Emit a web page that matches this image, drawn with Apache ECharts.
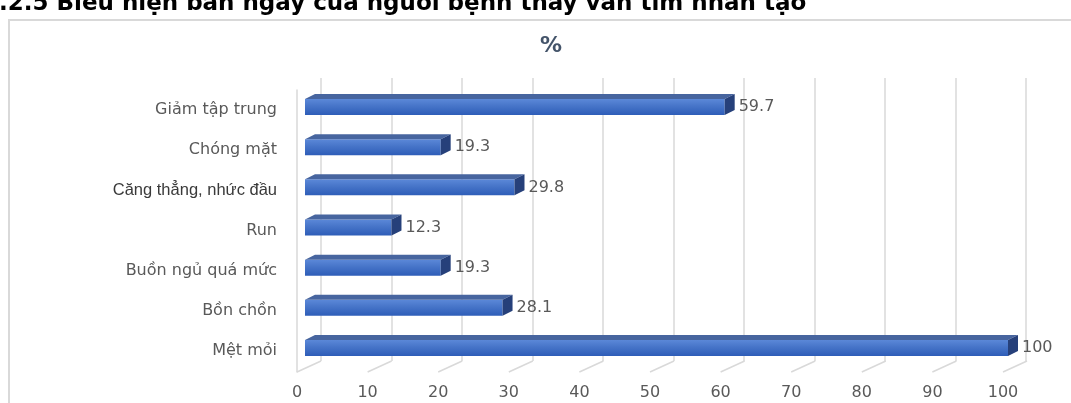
<!DOCTYPE html>
<html>
<head>
<meta charset="utf-8">
<script src="https://cdn.jsdelivr.net/npm/echarts@6/dist/echarts.min.js"></script>
<style>
html,body{margin:0;padding:0;background:#fff;}
#chart{width:1071px;height:403px;}
</style>
</head>
<body>
<div id="chart"></div>
<script>
// ---- data ----
var categories = ['Giảm tập trung', 'Chóng mặt', 'Căng thẳng, nhức đầu', 'Run', 'Buồn ngủ quá mức', 'Bồn chồn', 'Mệt mỏi'];
var values = [59.7, 19.3, 29.8, 12.3, 19.3, 28.1, 100];
var ticks = [0, 10, 20, 30, 40, 50, 60, 70, 80, 90, 100];
var chartTitle = '%';
var pageHeading = '2.2.5 Biểu hiện ban ngày của người bệnh thay van tim nhân tạo';

var DX = 10, DY = 5, BH = 16;
var chart = echarts.init(document.getElementById('chart'));

var option = {
  backgroundColor: '#fff',
  animation: false,
  title: {
    text: chartTitle, left: 535, top: 30,
    textStyle: {fontFamily: 'DejaVu Sans', fontWeight: 'bold', fontSize: 22, color: '#44546a'}
  },
  graphic: [
    {type: 'rect', shape: {x: 9, y: 20, width: 1100, height: 420},
     style: {fill: 'none', stroke: '#d9d9d9', lineWidth: 2}, z: -10},
    {type: 'text', x: -17, y: 4,
     style: {text: pageHeading, fontFamily: 'DejaVu Sans', fontWeight: 'bold', fontSize: 23,
             fill: '#000', verticalAlign: 'middle', align: 'left'}}
  ],
  grid: [
    {left: 321, right: 45, top: 78, bottom: 42},
    {left: 297, right: 68, top: 90, bottom: 31},
    {left: 305, right: 63, top: 87, bottom: 35}
  ],
  xAxis: [
    {gridIndex: 0, type: 'value', min: 0, max: 100, interval: 10,
     axisLabel: {show: false}, axisLine: {show: false}, axisTick: {show: false},
     splitLine: {show: true, lineStyle: {color: '#d9d9d9', width: 1.5}}},
    {gridIndex: 1, type: 'value', min: 0, max: 100, interval: 10,
     axisLabel: {show: true, margin: 13, color: '#595959', fontFamily: 'DejaVu Sans', fontSize: 16},
     axisLine: {show: false}, axisTick: {show: false}, splitLine: {show: false}},
    {gridIndex: 2, type: 'value', min: 0, max: 100, show: false, splitLine: {show: false}}
  ],
  yAxis: [
    {gridIndex: 0, type: 'value', min: 0, max: 1, show: false},
    {gridIndex: 1, type: 'value', min: 0, max: 1,
     axisLine: {show: true, lineStyle: {color: '#d9d9d9', width: 1.5}},
     axisLabel: {show: false}, axisTick: {show: false}, splitLine: {show: false}},
    {gridIndex: 2, type: 'category', data: categories, inverse: true,
     axisLine: {show: false}, axisTick: {show: false},
     axisLabel: {
       margin: 28, padding: [6, 0, 0, 0], color: '#595959', fontFamily: 'DejaVu Sans', fontSize: 16,
       formatter: function (v) {
         return v === 'Căng thẳng, nhức đầu' ? '{b|' + v + '}' : v;
       },
       rich: {b: {fontFamily: 'Liberation Sans', fontSize: 16.5, color: '#3a3a3a'}}
     }}
  ],
  series: [
    {
      type: 'custom', xAxisIndex: 1, yAxisIndex: 1, clip: false, silent: true,
      data: ticks.map(function (t) { return [t, 0]; }),
      renderItem: function (params, api) {
        var p = api.coord([api.value(0), 0]);
        return {type: 'line', shape: {x1: p[0], y1: p[1], x2: p[0] + 24, y2: p[1] - 11},
                style: {stroke: '#d9d9d9', lineWidth: 1.5}};
      }
    },
    {
      type: 'bar', xAxisIndex: 2, yAxisIndex: 2, barWidth: BH, data: values, z: 3,
      itemStyle: {color: new echarts.graphic.LinearGradient(0, 0, 0, 1, [
        {offset: 0, color: '#5b88d8'}, {offset: 0.45, color: '#4674c8'}, {offset: 1, color: '#2e5db8'}])},
      label: {show: true, position: 'right', distance: 14, color: '#595959',
              fontFamily: 'DejaVu Sans', fontSize: 16}
    },
    {
      type: 'custom', xAxisIndex: 2, yAxisIndex: 2, clip: false, silent: true, z: 4,
      data: values.map(function (v, i) { return [v, i]; }),
      renderItem: function (params, api) {
        var e = api.coord([api.value(0), api.value(1)]);
        var s = api.coord([0, api.value(1)]);
        var yt = e[1] - BH / 2, yb = e[1] + BH / 2;
        return {type: 'group', children: [
          {type: 'polygon', shape: {points: [[s[0], yt], [e[0], yt], [e[0] + DX, yt - DY], [s[0] + DX, yt - DY]]},
           style: {fill: '#47659f'}},
          {type: 'polygon', shape: {points: [[e[0], yt], [e[0] + DX, yt - DY], [e[0] + DX, yb - DY], [e[0], yb]]},
           style: {fill: '#26407a'}}
        ]};
      }
    }
  ]
};
chart.setOption(option);
</script>
</body>
</html>
